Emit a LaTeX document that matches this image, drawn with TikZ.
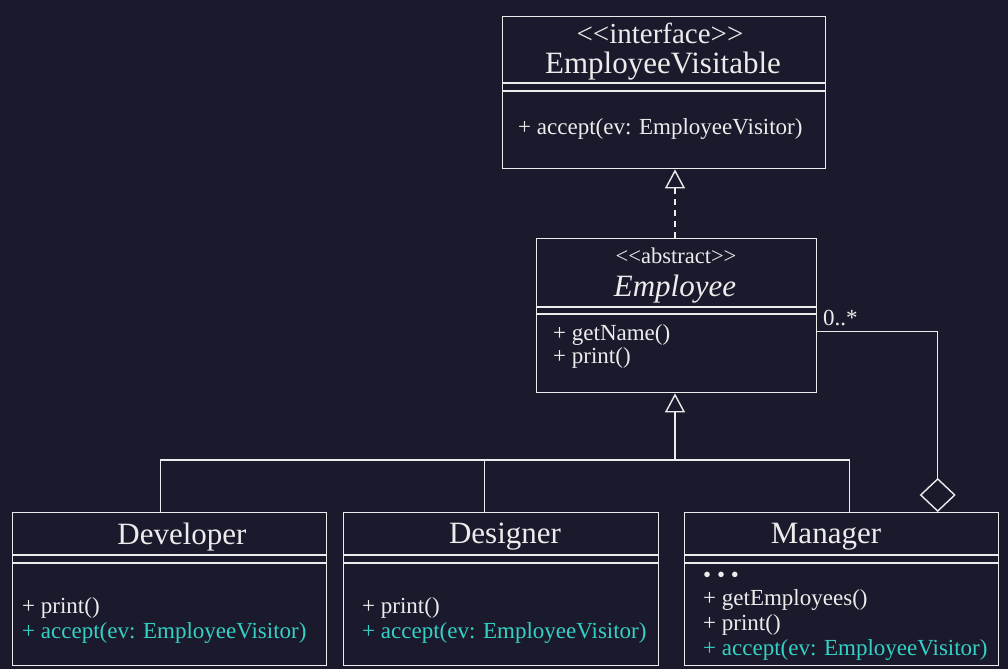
\documentclass[tikz,border=0pt]{standalone}
\usepackage{fontspec}
\setmainfont{Liberation Serif}
\usetikzlibrary{arrows.meta}
\definecolor{bg}{HTML}{1B1A2C}
\definecolor{fg}{HTML}{ECECEC}
\definecolor{cy}{HTML}{35D0C6}
\tikzset{
  cls/.style={draw=fg, line width=1.4pt, rectangle, inner sep=0pt, anchor=north west},
  divl/.style={draw=fg, line width=1.4pt},
  namet/.style={text=fg, font=\fontsize{31}{36}\selectfont, inner sep=0pt},
  stereo/.style={text=fg, font=\fontsize{29}{33}\selectfont, inner sep=0pt},
  stereos/.style={text=fg, font=\fontsize{22.5}{26}\selectfont, inner sep=0pt},
  memb/.style={text=fg, font=\fontsize{23}{27}\selectfont, inner sep=0pt, anchor=west},
  membc/.style={memb, text=cy},
  conn/.style={draw=fg, line width=1.4pt},
  gentip/.style={-{Triangle[length=19pt, width=20pt, fill=bg, line width=1.4pt]}},
  aggtip/.style={-{Diamond[length=34pt, width=36pt, fill=bg, line width=1.4pt]}}
}
\begin{document}
\begin{tikzpicture}[x=1pt, y=-1pt]
\fill[bg] (0,0) rectangle (1008,669);
\useasboundingbox (0,0) rectangle (1008,669);

% EmployeeVisitable
\node[cls, minimum width=323pt, minimum height=152pt] (EV) at (502,16) {};
\draw[divl] (502,83) -- (825,83);
\draw[divl] (502,91) -- (825,91);
\node[stereo] (EVs) at (660,33) {<{}<interface>{}>};
\node[namet] (EVn) at (663,66) {EmployeeVisitable};
\node[memb] (EVm) at (518,129) {+ accept(ev: EmployeeVisitor)};

% Employee
\node[cls, minimum width=280pt, minimum height=154pt] (Emp) at (536,238) {};
\draw[divl] (536,307) -- (816,307);
\draw[divl] (536,314) -- (816,314);
\node[stereos] (Emps) at (676,256) {<{}<abstract>{}>};
\node[namet, font=\fontsize{31}{36}\selectfont\itshape] (Empn) at (675,289) {Employee};
\node[memb] (Empm1) at (553,335) {+ getName()};
\node[memb] (Empm2) at (553,358) {+ print()};

% Developer
\node[cls, minimum width=314pt, minimum height=153pt] (Dev) at (12,512) {};
\draw[divl] (12,555) -- (326,555);
\draw[divl] (12,563) -- (326,563);
\node[namet] (Devn) at (182,537) {Developer};
\node[memb] (Devm1) at (22,608) {+ print()};
\node[membc] (Devm2) at (22,633) {+ accept(ev: EmployeeVisitor)};

% Designer
\node[cls, minimum width=315pt, minimum height=153pt] (Des) at (343,512) {};
\draw[divl] (343,555) -- (658,555);
\draw[divl] (343,563) -- (658,563);
\node[namet] (Desn) at (505,537) {Designer};
\node[memb] (Desm1) at (362,608) {+ print()};
\node[membc] (Desm2) at (362,633) {+ accept(ev: EmployeeVisitor)};

% Manager
\node[cls, minimum width=314pt, minimum height=153pt] (Man) at (684,512) {};
\draw[divl] (684,555) -- (998,555);
\draw[divl] (684,563) -- (998,563);
\node[namet] (Mann) at (826,537) {Manager};
\node[memb] (Manm0) at (703,577) {• • •};
\node[memb] (Manm1) at (703,600) {+ getEmployees()};
\node[memb] (Manm2) at (703,625) {+ print()};
\node[membc] (Manm3) at (703,650) {+ accept(ev: EmployeeVisitor)};

% realization
\coordinate (rtop) at (675,238);
\draw[conn, gentip, dash pattern=on 6pt off 5pt] (rtop) -- (rtop |- EV.south);

% generalization tree
\coordinate (bus) at (675,460);
\draw[conn, gentip] (bus) -- (bus |- Emp.south);
\draw[conn] ([xshift=-9pt]Dev.north) |- (bus) -| ([xshift=8pt]Man.north);
\draw[conn] ([xshift=-16.5pt]Des.north) -- ([xshift=-16.5pt]Des.north |- bus);

% aggregation
\draw[conn, aggtip] ([yshift=-16pt]Emp.east) -| ([xshift=96pt]Man.north);
\node[memb] (mult) at (823,318) {0..*};
\end{tikzpicture}
\end{document}
